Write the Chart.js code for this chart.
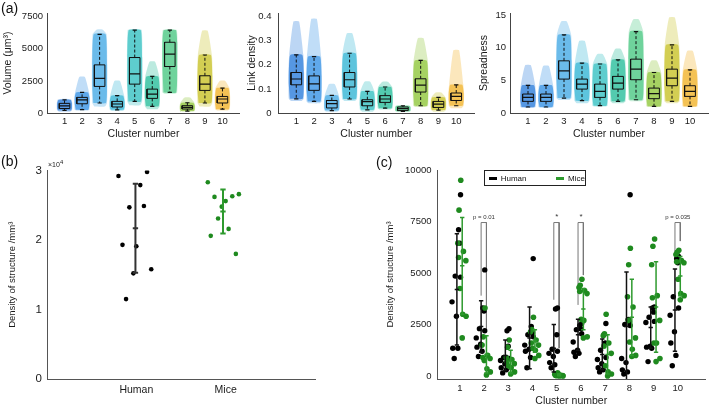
<!DOCTYPE html>
<html>
<head>
<meta charset="utf-8">
<title>Cluster statistics</title>
<script src="https://cdn.jsdelivr.net/npm/chart.js@4.4.1/dist/chart.umd.min.js"></script>
<style>
  body { margin: 0; background: #fff; font-family: "Liberation Sans", Arial, sans-serif; }
  #wrap { position: relative; width: 709px; height: 407px; overflow: hidden; }
  canvas { position: absolute; }
  .panel { position: absolute; font-size: 14px; color: #111; }
  #exp { position: absolute; left: 48px; top: 159px; font-size: 7px; color: #222; }
  #legend { position: absolute; left: 484px; top: 170px; width: 100px; height: 14px; border: 1px solid #222;
            background: #fff; font-size: 8px; display: flex; align-items: center; color: #111; }
  #legend .mark { display: inline-block; width: 12px; height: 3px; margin: 0 4px 0 6px; }
</style>
</head>
<body>
<div id="wrap">
  <canvas id="volume" width="240" height="140" style="left:0;top:0"></canvas>
  <canvas id="link" width="236" height="140" style="left:240px;top:0"></canvas>
  <canvas id="spread" width="233" height="140" style="left:476px;top:0"></canvas>
  <canvas id="total" width="320" height="262" style="left:0;top:145px"></canvas>
  <canvas id="percluster" width="339" height="262" style="left:370px;top:145px"></canvas>
  <div class="panel" style="left:1px;top:0">(a)</div>
  <div class="panel" style="left:1px;top:153px">(b)</div>
  <div class="panel" style="left:376px;top:154px">(c)</div>
  <div id="exp">&times;10<sup>4</sup></div>
  <div id="legend"></div>
</div>
<script>
const clusters = [1, 2, 3, 4, 5, 6, 7, 8, 9, 10];
const clusterColors = ['#2f7fdc', '#3a94e6', '#4aace6', '#37b7d6', '#39c2c4',
                       '#2dbf9c', '#4ec985', '#92c83e', '#c9c42c', '#f2b42e'];

// (a) volume
const volWhiskLo = [200, 260, 780, 250, 900, 520, 1600, 150, 780, 300];
const volQ1 = [350, 720, 2070, 470, 2250, 1140, 3620, 310, 1760, 780];
const volMedian = [550, 1030, 2690, 700, 3050, 1475, 4580, 440, 2250, 1090];
const volQ3 = [750, 1215, 3750, 905, 4320, 1860, 5510, 570, 2900, 1290];
const volWhiskHi = [1030, 1600, 6130, 1350, 6460, 2850, 6460, 800, 4520, 1940];
const volCloudLo = [100, 200, 500, 150, 600, 300, 1500, 100, 500, 200];
const volCloudHi = [1100, 2800, 6500, 2500, 6500, 4000, 6500, 1200, 6400, 2500];
const volTicks = [0, 2500, 5000, 7500];

// (a) link density
const linkWhiskLo = [0.059, 0.048, 0.010, 0.058, 0.013, 0.020, 0.007, 0.030, 0.012, 0.030];
const linkQ1 = [0.117, 0.094, 0.021, 0.108, 0.030, 0.044, 0.010, 0.087, 0.023, 0.052];
const linkMedian = [0.141, 0.121, 0.039, 0.138, 0.047, 0.058, 0.018, 0.116, 0.037, 0.069];
const linkQ3 = [0.168, 0.154, 0.052, 0.168, 0.055, 0.072, 0.025, 0.142, 0.048, 0.083];
const linkWhiskHi = [0.241, 0.234, 0.073, 0.248, 0.090, 0.108, 0.030, 0.218, 0.065, 0.117];
const linkCloudLo = [0.05, 0.04, 0.005, 0.05, 0.005, 0.015, 0.005, 0.025, 0.005, 0.02];
const linkCloudHi = [0.38, 0.39, 0.12, 0.33, 0.13, 0.13, 0.032, 0.31, 0.085, 0.26];
const linkTicks = [0, 0.1, 0.2, 0.3, 0.4];

// (a) spreadness
const sprWhiskLo = [0.92, 0.92, 2.29, 1.88, 1.12, 1.78, 2.03, 1.02, 1.78, 1.02];
const sprQ1 = [1.78, 1.78, 5.19, 3.66, 2.39, 3.66, 5.09, 2.19, 4.17, 2.54];
const sprMedian = [2.39, 2.39, 6.46, 4.42, 3.30, 4.58, 6.71, 2.95, 5.34, 3.30];
const sprQ3 = [2.90, 2.90, 7.98, 5.19, 4.42, 5.60, 8.24, 3.81, 6.71, 4.17];
const sprWhiskHi = [4.22, 4.22, 11.95, 7.63, 7.50, 8.14, 12.46, 6.20, 10.42, 6.61];
const sprCloudLo = [0.8, 0.8, 2.0, 1.5, 1.0, 1.5, 1.8, 0.9, 1.5, 0.9];
const sprCloudHi = [7.3, 7.2, 14.0, 11.0, 9.0, 9.8, 14.3, 8.0, 14.6, 9.5];
const sprTicks = [0, 5, 10, 15];

// (b) total density
const groups = ['Human', 'Mice'];
const humanTotal = [29200, 29800, 27900, 24700, 24900, 19300, 19100, 15800, 15200, 11500];
const humanTotalJitter = [-0.2, 0.12, 0.044, -0.078, 0.085, -0.155, 0, 0.167, -0.033, -0.115];
const miceTotal = [28300, 26200, 25600, 26300, 26600, 24800, 23100, 21600, 20600, 18000];
const miceTotalJitter = [-0.2, -0.125, 0, 0.074, 0.148, -0.044, -0.085, 0.033, -0.167, 0.114];
const totalMean = [21700, 24100];
const totalSd = [6400, 3150];
const totalTicks = [0, 5000, 10000, 15000, 20000, 25000, 30000];

// (c) density per cluster
const humanByCluster = [
  [8800, 7100, 6450, 4850, 4800, 3600, 2900, 1350, 1350, 850],
  [5150, 3300, 3150, 2300, 2200, 1850, 1550, 1400, 1200, 950],
  [2300, 2200, 1450, 900, 850, 750, 600, 400, 300, 150],
  [5700, 2400, 2100, 2000, 1900, 1500, 1300, 1200, 900, 400],
  [3300, 3250, 2000, 1300, 1200, 1100, 950, 650, 550, 400],
  [2550, 2450, 2300, 2250, 2050, 1650, 1250, 1150, 1100, 950],
  [2550, 2000, 1600, 1250, 900, 800, 600, 400, 300, 200],
  [8800, 2750, 2650, 2500, 2450, 850, 650, 300, 200, 100],
  [3350, 3300, 3100, 2850, 2650, 2600, 1450, 1400, 1350, 700],
  [5800, 5700, 5500, 3850, 3300, 2950, 2150, 1600, 1000, 500]
];
const miceByCluster = [
  [9500, 8050, 6450, 6050, 5750, 5600, 4250, 3000, 2900, 1850],
  [3300, 1900, 1500, 1000, 900, 850, 750, 350, 200, 50],
  [1750, 1400, 900, 800, 700, 600, 500, 400, 200, 100],
  [2850, 2250, 2150, 1750, 1600, 1500, 1350, 1250, 1000, 850],
  [150, 100, 80, 50, 30, 20, 10, 0, 0, 50],
  [4700, 4400, 4300, 4150, 4100, 4000, 2750, 2700, 1900, 1850],
  [3000, 2050, 1950, 1600, 1450, 1100, 500, 200, 100, 0],
  [6200, 5400, 3850, 3350, 2700, 1850, 1650, 1300, 1000, 950],
  [6650, 6300, 5400, 3900, 3800, 2700, 1600, 1600, 850, 700],
  [6100, 6000, 5900, 5600, 5550, 5500, 4700, 4000, 3900, 3700]
];
const humanJitter = [0.03, -0.05, 0, -0.19, 0.03, -0.32, -0.14, -0.29, -0.08, -0.23];
const miceJitter = [0.04, -0.03, -0.08, 0.15, -0.05, 0.25, 0.01, 0.12, 0.26, 0.1];
const humanMean = [4200, 2400, 1000, 1850, 1350, 2000, 1050, 2400, 2350, 3200];
const humanSd = [2700, 1250, 750, 1500, 1150, 750, 750, 2650, 1000, 2000];
const miceMean = [5350, 1050, 700, 1700, 60, 3250, 1050, 2850, 3350, 4850];
const miceSd = [2350, 900, 550, 550, 50, 1000, 950, 1850, 2200, 950];
const bracketCluster = [2, 5, 6, 10];
const bracketLabel = ['p = 0.01', '*', '*', 'p = 0.035'];
const bracketLeftEnd = [3900, 3700, 3450, 5650];
const bracketRightEnd = [2300, 1350, 4900, 6550];
const bracketTop = 7450;
const densityTicks = [0, 2500, 5000, 7500, 10000];

const FONT = '"Liberation Sans", Arial, sans-serif';
Chart.defaults.font.family = FONT;
Chart.defaults.color = '#1a1a1a';

const GAP = {x: null, y: null};
function seg(arr, x1, y1, x2, y2) { arr.push({x: x1, y: y1}, {x: x2, y: y2}, GAP); }
function fixedSize(size) {
  return scale => { if (scale.isHorizontal()) scale.height = size; else scale.width = size; };
}
function setTicks(values) { return scale => { scale.ticks = values.map(v => ({value: v})); }; }
function alpha(hex, a) {
  const n = parseInt(hex.slice(1), 16);
  return `rgba(${n >> 16},${(n >> 8) & 255},${n & 255},${a})`;
}
function lineSet(data, color, width, dash, order) {
  return {type: 'line', data, borderColor: color, borderWidth: width, borderDash: dash || [],
          pointRadius: 0, fill: false, spanGaps: false, tension: 0, order};
}

function boxPanel(id, s, o) {
  const datasets = [];
  const boxes = [], medians = [], whiskers = [], caps = [];
  clusters.forEach((c, i) => {
    const outer = [
      [c - 0.3, s.lo[i]], [c + 0.3, s.lo[i]], [c + 0.42, s.wlo[i]], [c + 0.44, s.q1[i]],
      [c + 0.44, s.q3[i]], [c + 0.4, s.whi[i]], [c + 0.16, s.hi[i]], [c - 0.16, s.hi[i]],
      [c - 0.4, s.whi[i]], [c - 0.44, s.q3[i]], [c - 0.44, s.q1[i]], [c - 0.42, s.wlo[i]], [c - 0.3, s.lo[i]]
    ].map(p => ({x: p[0], y: p[1]}));
    const inner = [
      [c - 0.36, s.wlo[i]], [c + 0.36, s.wlo[i]], [c + 0.42, s.q1[i]], [c + 0.42, s.q3[i]],
      [c + 0.34, s.whi[i]], [c - 0.34, s.whi[i]], [c - 0.42, s.q3[i]], [c - 0.42, s.q1[i]], [c - 0.36, s.wlo[i]]
    ].map(p => ({x: p[0], y: p[1]}));
    datasets.push({type: 'line', data: outer, borderWidth: 0, borderColor: 'transparent', pointRadius: 0,
                   backgroundColor: alpha(clusterColors[i], 0.32), fill: 'shape', tension: 0.15, order: 5});
    datasets.push({type: 'line', data: inner, borderWidth: 0, borderColor: 'transparent', pointRadius: 0,
                   backgroundColor: alpha(clusterColors[i], 0.72), fill: 'shape', tension: 0.15, order: 4});
    const bw = 0.3, cw = 0.12;
    seg(boxes, c - bw, s.q1[i], c + bw, s.q1[i]);
    seg(boxes, c + bw, s.q1[i], c + bw, s.q3[i]);
    seg(boxes, c + bw, s.q3[i], c - bw, s.q3[i]);
    seg(boxes, c - bw, s.q3[i], c - bw, s.q1[i]);
    seg(medians, c - bw, s.med[i], c + bw, s.med[i]);
    seg(whiskers, c, s.q3[i], c, s.whi[i]);
    seg(whiskers, c, s.q1[i], c, s.wlo[i]);
    seg(caps, c - cw, s.whi[i], c + cw, s.whi[i]);
    seg(caps, c - cw, s.wlo[i], c + cw, s.wlo[i]);
  });
  datasets.push(lineSet(whiskers, '#111', 1, [3, 2], 3));
  datasets.push(lineSet(caps, '#111', 1.2, null, 2));
  datasets.push(lineSet(boxes, '#111', 1, null, 1));
  datasets.push(lineSet(medians, '#111', 1.2, null, 0));

  new Chart(document.getElementById(id), {
    type: 'scatter',
    data: {datasets},
    options: {
      responsive: false, animation: false, devicePixelRatio: 1,
      layout: {padding: {top: 13, right: o.padRight, left: 0, bottom: 0}},
      plugins: {legend: {display: false}, tooltip: {enabled: false}},
      scales: {
        x: {
          type: 'linear', min: 0, max: 11,
          afterBuildTicks: setTicks(clusters), afterFit: fixedSize(27),
          grid: {display: false, drawTicks: false}, border: {color: '#444'},
          ticks: {padding: 3, font: {size: 9.5}, callback: v => String(v)},
          title: {display: true, text: 'Cluster number', font: {size: 10.5}, padding: {top: 0, bottom: 0}}
        },
        y: {
          min: 0, max: o.max,
          afterBuildTicks: setTicks(o.ticks), afterFit: fixedSize(o.axisWidth),
          grid: {display: false, drawTicks: false}, border: {color: '#444'},
          ticks: {padding: o.tickPad, font: {size: 9.5}, callback: v => String(v)},
          title: {display: true, text: o.title, font: {size: 10.5}, padding: {top: o.titlePad, bottom: 0}}
        }
      }
    }
  });
}

boxPanel('volume',
  {lo: volCloudLo, wlo: volWhiskLo, q1: volQ1, med: volMedian, q3: volQ3, whi: volWhiskHi, hi: volCloudHi},
  {max: 7790, ticks: volTicks, axisWidth: 47, tickPad: 4, title: 'Volume (\u03bcm\u00b3)', titlePad: 2, padRight: 0});
boxPanel('link',
  {lo: linkCloudLo, wlo: linkWhiskLo, q1: linkQ1, med: linkMedian, q3: linkQ3, whi: linkWhiskHi, hi: linkCloudHi},
  {max: 0.415, ticks: linkTicks, axisWidth: 38.5, tickPad: 7, title: 'Link density', titlePad: 6, padRight: 2});
boxPanel('spread',
  {lo: sprCloudLo, wlo: sprWhiskLo, q1: sprQ1, med: sprMedian, q3: sprQ3, whi: sprWhiskHi, hi: sprCloudHi},
  {max: 15.3, ticks: sprTicks, axisWidth: 34, tickPad: 4, title: 'Spreadness', titlePad: 2, padRight: 1});

// (b)
(function () {
  const human = humanTotal.map((v, j) => ({x: 1 + humanTotalJitter[j], y: v}));
  const mice = miceTotal.map((v, j) => ({x: 2 + miceTotalJitter[j], y: v}));
  const bars = [[], []];
  const barX = [0.99, 1.97];
  const cw = 0.03;
  [0, 1].forEach(g => {
    const m = totalMean[g], sd = totalSd[g], x = barX[g];
    seg(bars[g], x, m - sd, x, m + sd);
    seg(bars[g], x - cw, m + sd, x + cw, m + sd);
    seg(bars[g], x - cw, m - sd, x + cw, m - sd);
    seg(bars[g], x - cw, m, x + cw, m);
  });
  new Chart(document.getElementById('total'), {
    type: 'scatter',
    data: {datasets: [
      {label: groups[0], data: human, backgroundColor: '#000', borderWidth: 0, pointRadius: 2.3, order: 1},
      {label: groups[1], data: mice, backgroundColor: '#1f8a1f', borderWidth: 0, pointRadius: 2.3, order: 1},
      lineSet(bars[0], '#333', 2, null, 0),
      lineSet(bars[1], '#2e9a2e', 2, null, 0)
    ]},
    options: {
      responsive: false, animation: false, devicePixelRatio: 1,
      layout: {padding: {top: 25.5, right: 5, left: 0, bottom: 0}},
      plugins: {legend: {display: false}, tooltip: {enabled: false}},
      scales: {
        x: {
          type: 'linear', min: 0, max: 3,
          afterBuildTicks: setTicks([1, 2]), afterFit: fixedSize(28),
          grid: {display: false, drawTicks: false}, border: {color: '#555'},
          ticks: {padding: 5, font: {size: 10.5}, callback: v => groups[v - 1]}
        },
        y: {
          min: 0, max: 30000,
          afterBuildTicks: setTicks(totalTicks), afterFit: fixedSize(47),
          grid: {display: false, drawTicks: false}, border: {color: '#555'},
          ticks: {padding: 5, font: {size: 11.5}, callback: v => (v % 10000 === 0 ? String(v / 10000) : '')},
          title: {display: true, text: 'Density of structure /mm\u00b3', font: {size: 9.5}, padding: {top: 7, bottom: 0}}
        }
      }
    }
  });
})();

// (c)
(function () {
  const human = [], mice = [], hBars = [], mBars = [], brackets = [];
  const hOff = -0.12, mOff = 0.1, cw = 0.09;
  clusters.forEach((c, i) => {
    humanByCluster[i].forEach((v, j) => human.push({x: c + humanJitter[j], y: v}));
    miceByCluster[i].forEach((v, j) => mice.push({x: c + miceJitter[j], y: v}));
    [[hBars, humanMean[i], humanSd[i], c + hOff], [mBars, miceMean[i], miceSd[i], c + mOff]].forEach(b => {
      const [arr, m, sd, x] = b;
      seg(arr, x, m - sd, x, m + sd);
      seg(arr, x - cw, m + sd, x + cw, m + sd);
      seg(arr, x - cw, m - sd, x + cw, m - sd);
      seg(arr, x - cw, m, x + cw, m);
    });
  });
  bracketCluster.forEach((c, k) => {
    brackets.push({x: c + hOff, y: bracketLeftEnd[k]}, {x: c + hOff, y: bracketTop},
                  {x: c + mOff, y: bracketTop}, {x: c + mOff, y: bracketRightEnd[k]}, GAP);
  });
  const bracketText = {
    id: 'bracketText',
    afterDatasetsDraw(chart) {
      const {ctx, scales: {x, y}} = chart;
      ctx.save();
      ctx.fillStyle = '#333';
      ctx.textAlign = 'center';
      ctx.textBaseline = 'bottom';
      bracketCluster.forEach((c, k) => {
        ctx.font = (bracketLabel[k] === '*' ? '8px ' : '6px ') + FONT;
        ctx.fillText(bracketLabel[k], x.getPixelForValue(c), y.getPixelForValue(bracketTop) - 2);
      });
      ctx.restore();
    }
  };
  new Chart(document.getElementById('percluster'), {
    type: 'scatter',
    data: {datasets: [
      lineSet(brackets, '#777', 1, null, 3),
      {label: groups[0], data: human, backgroundColor: '#000', borderWidth: 0, pointRadius: 2.7, order: 2},
      {label: groups[1], data: mice, backgroundColor: '#1f8a1f', borderWidth: 0, pointRadius: 2.8, order: 1},
      lineSet(hBars, '#111', 1.5, null, 0),
      lineSet(mBars, '#2e9a2e', 1.5, null, 0)
    ]},
    plugins: [bracketText],
    options: {
      responsive: false, animation: false, devicePixelRatio: 1,
      layout: {padding: {top: 25, right: 2, left: 0, bottom: 0}},
      plugins: {legend: {display: false}, tooltip: {enabled: false}},
      scales: {
        x: {
          type: 'linear', min: 0.08, max: 11.12,
          afterBuildTicks: setTicks(clusters), afterFit: fixedSize(28),
          grid: {display: false, drawTicks: false}, border: {color: '#555'},
          ticks: {padding: 4, font: {size: 9.5}, callback: v => String(v)},
          title: {display: true, text: 'Cluster number', font: {size: 10.5}, padding: {top: 0, bottom: 0}}
        },
        y: {
          min: -145, max: 10000,
          afterBuildTicks: setTicks(densityTicks), afterFit: fixedSize(67.5),
          grid: {display: false, drawTicks: false}, border: {color: '#555'},
          ticks: {padding: 6, font: {size: 9.5}, callback: v => String(v)},
          title: {display: true, text: 'Density of structure /mm\u00b3', font: {size: 9.5}, padding: {top: 15, bottom: 0}}
        }
      }
    }
  });
})();

// legend for (c)
const legendColors = ['#000', '#2e9a2e'];
document.getElementById('legend').innerHTML = groups.map((g, i) =>
  `<span class="mark" style="background:${legendColors[i]};margin-left:${i ? 30 : 4}px"></span><span>${g}</span>`).join('');
</script>
</body>
</html>
